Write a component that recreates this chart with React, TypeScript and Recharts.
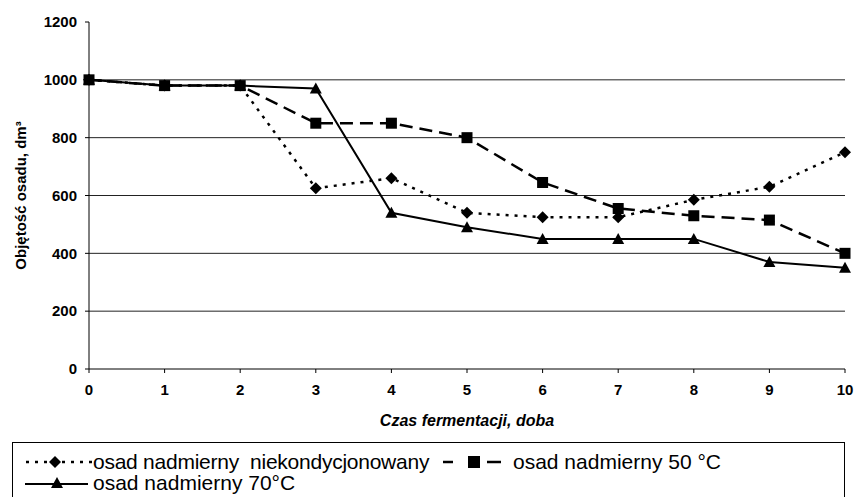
import { CartesianGrid, Label, Legend, Line, LineChart, XAxis, YAxis } from 'recharts';

const DAYS = [0, 1, 2, 3, 4, 5, 6, 7, 8, 9, 10];
const NIEKONDYCJONOWANY = [1000, 980, 980, 625, 660, 540, 525, 525, 585, 630, 750];
const TEMP_50 = [1000, 980, 980, 850, 850, 800, 645, 555, 530, 515, 400];
const TEMP_70 = [1000, 980, 980, 970, 540, 490, 450, 450, 450, 370, 350];
const Y_TICKS = [0, 200, 400, 600, 800, 1000, 1200];
const GRID_VALUES = [200, 400, 600, 800, 1000];

const NAME_NIEKOND = 'osad nadmierny  niekondycjonowany';
const NAME_50 = 'osad nadmierny 50 °C';
const NAME_70 = 'osad nadmierny 70°C';

const chartData = DAYS.map((day, i) => ({
  day,
  niekond: NIEKONDYCJONOWANY[i],
  t50: TEMP_50[i],
  t70: TEMP_70[i]
}));

function DiamondDot(props: any) {
  const { cx, cy, index } = props;
  if (cx == null || cy == null) return null;
  const r = 6;
  return (
    <path
      key={`dia-${index}`}
      d={`M${cx},${cy - r}L${cx + r},${cy}L${cx},${cy + r}L${cx - r},${cy}Z`}
      fill="#000"
    />
  );
}

function SquareDot(props: any) {
  const { cx, cy, index } = props;
  if (cx == null || cy == null) return null;
  const s = 5.5;
  return <rect key={`sq-${index}`} x={cx - s} y={cy - s} width={s * 2} height={s * 2} fill="#000" />;
}

function TriangleDot(props: any) {
  const { cx, cy, index } = props;
  if (cx == null || cy == null) return null;
  return (
    <path
      key={`tri-${index}`}
      d={`M${cx},${cy - 6}L${cx + 6},${cy + 5}L${cx - 6},${cy + 5}Z`}
      fill="#000"
    />
  );
}

function LegendBox() {
  const row = (top: number): React.CSSProperties => ({
    position: 'absolute',
    top,
    height: 24,
    display: 'flex',
    alignItems: 'center',
    whiteSpace: 'pre'
  });

  return (
    <div
      style={{
        position: 'relative',
        width: 833,
        height: 64,
        border: '1px solid #000',
        boxSizing: 'border-box',
        background: '#fff',
        color: '#000',
        fontSize: 21,
        lineHeight: '24px'
      }}
    >
      <div style={{ ...row(7), left: 12 }}>
        <svg width={68} height={14}>
          <line x1={1} y1={7} x2={67} y2={7} stroke="#000" strokeWidth={2.5} strokeDasharray="3 6" />
          <path d="M30,1L36,7L30,13L24,7Z" fill="#000" />
        </svg>
        <span style={{ letterSpacing: -0.25 }}>{NAME_NIEKOND}</span>
      </div>
      <div style={{ ...row(7), left: 430 }}>
        <svg width={58} height={14}>
          <line x1={0} y1={7} x2={10} y2={7} stroke="#000" strokeWidth={2.5} />
          <rect x={25} y={1} width={12} height={12} fill="#000" />
          <line x1={44} y1={7} x2={58} y2={7} stroke="#000" strokeWidth={2.5} />
        </svg>
        <span style={{ marginLeft: 12 }}>{NAME_50}</span>
      </div>
      <div style={{ ...row(28), left: 12 }}>
        <svg width={68} height={14}>
          <line x1={0} y1={8} x2={63} y2={8} stroke="#000" strokeWidth={2} />
          <path d="M32,1L38,12L26,12Z" fill="#000" />
        </svg>
        <span>{NAME_70}</span>
      </div>
    </div>
  );
}

export default function App() {
  return (
    <div
      style={{
        position: 'absolute',
        left: 0,
        top: 0,
        width: 858,
        height: 497,
        overflow: 'hidden',
        background: '#fff',
        fontFamily: '"Liberation Sans", Arial, sans-serif'
      }}
    >
      <LineChart width={858} height={497} data={chartData} margin={{ top: 22, right: 13, left: 6, bottom: 0 }}>
        <CartesianGrid horizontal vertical={false} horizontalValues={GRID_VALUES} stroke="#222" strokeWidth={1} />
        <XAxis
          dataKey="day"
          type="number"
          domain={[0, 10]}
          ticks={DAYS}
          height={73}
          stroke="#000"
          tickSize={4}
          tickMargin={11}
          tick={{ fill: '#000', fontSize: 15, fontWeight: 700 }}
        >
          <Label
            value="Czas fermentacji, doba"
            position="insideBottom"
            offset={16}
            fill="#000"
            style={{ fontSize: 16, fontWeight: 700, fontStyle: 'italic' }}
          />
        </XAxis>
        <YAxis
          type="number"
          domain={[0, 1200]}
          ticks={Y_TICKS}
          width={83}
          stroke="#000"
          tickSize={4}
          tickMargin={8}
          tick={{ fill: '#000', fontSize: 15, fontWeight: 700 }}
        >
          <Label
            value="Objętość osadu, dm³"
            angle={-90}
            position="insideLeft"
            offset={15}
            fill="#000"
            style={{ fontSize: 15, fontWeight: 700, textAnchor: 'middle' }}
          />
        </YAxis>
        <Legend
          verticalAlign="bottom"
          content={() => <LegendBox />}
          wrapperStyle={{ position: 'absolute', left: 12, top: 442, width: 833, height: 55, bottom: 'auto' }}
        />
        <Line
          dataKey="niekond"
          name={NAME_NIEKOND}
          stroke="#000"
          strokeWidth={2.5}
          strokeDasharray="3 6"
          dot={DiamondDot}
          activeDot={false}
          isAnimationActive={false}
        />
        <Line
          dataKey="t50"
          name={NAME_50}
          stroke="#000"
          strokeWidth={2.5}
          strokeDasharray="13 7"
          dot={SquareDot}
          activeDot={false}
          isAnimationActive={false}
        />
        <Line
          dataKey="t70"
          name={NAME_70}
          stroke="#000"
          strokeWidth={2}
          dot={TriangleDot}
          activeDot={false}
          isAnimationActive={false}
        />
      </LineChart>
    </div>
  );
}
